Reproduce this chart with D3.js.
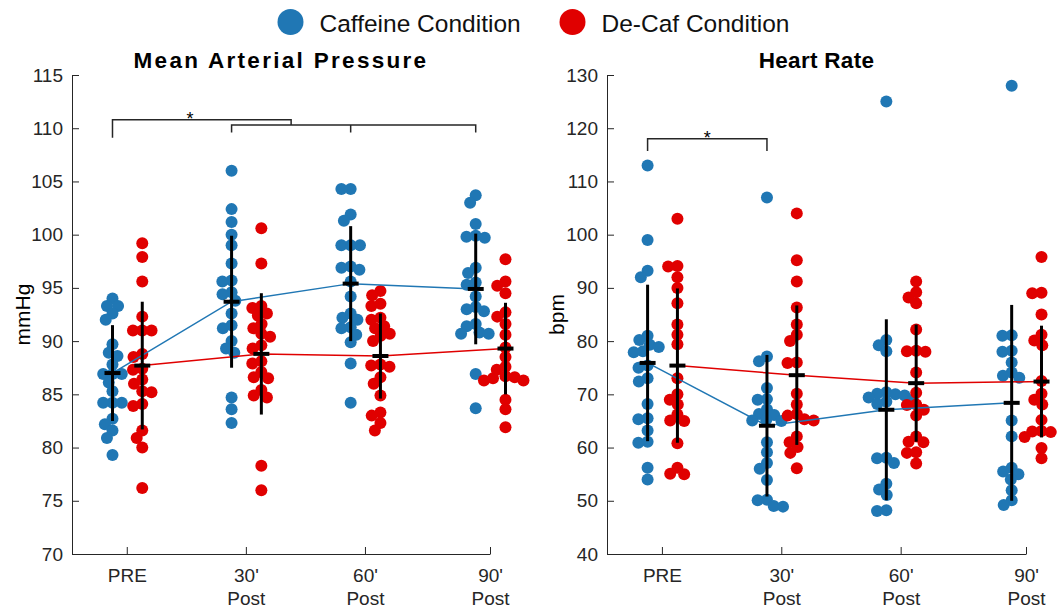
<!DOCTYPE html>
<html>
<head>
<meta charset="utf-8">
<script src="https://cdn.jsdelivr.net/npm/d3@7"></script>
<style>
  body { margin: 0; background: #fff; }
  text { font-family: "Liberation Sans", Arial, sans-serif; fill: #262626; }
</style>
</head>
<body>
<div id="chart"></div>
<script>
// Caffeine vs De-Caf: MAP and heart rate swarm plots

// Pt. 0 - DATA

const timeLabels = [["PRE"], ["30'", "Post"], ["60'", "Post"], ["90'", "Post"]];
const timeX = [1, 2, 3, 4.05];  // category positions on the x axis

const conditions = ["Caffeine Condition", "De-Caf Condition"];

// Mean Arterial Pressure (mmHg), one array per time point
const mapCaf = [
    [94.0, 93.3, 93.3, 92.6, 92.0, 89.7, 88.9, 88.6, 87.8, 86.9, 86.9, 86.9, 86.1, 85.3, 84.2, 84.2, 84.2, 82.7, 82.2, 81.6, 80.9, 79.3],
    [106.0, 102.4, 101.2, 100.0, 99.0, 97.3, 95.7, 95.6, 94.6, 94.4, 93.8, 92.6, 91.5, 91.2, 90.0, 89.3, 88.9, 84.7, 83.6, 82.3],
    [104.3, 104.3, 101.9, 101.3, 99.0, 99.0, 99.0, 97.0, 96.9, 96.7, 95.6, 94.2, 92.6, 92.2, 92.0, 91.3, 91.2, 90.6, 89.9, 87.9, 84.2],
    [103.7, 103.0, 101.0, 99.9, 99.8, 99.7, 96.9, 96.4, 95.5, 95.3, 94.2, 93.2, 93.0, 92.8, 91.6, 91.4, 90.8, 90.7, 90.7, 86.9, 83.7]
];
const mapDecaf = [
    [99.2, 97.9, 95.6, 92.3, 91.0, 91.0, 91.0, 88.8, 88.5, 87.4, 87.3, 86.4, 86.0, 85.3, 85.2, 84.1, 83.9, 81.6, 80.9, 80.0, 76.2],
    [100.6, 97.3, 93.3, 93.1, 92.6, 92.4, 91.6, 91.2, 90.7, 90.4, 89.6, 89.3, 88.1, 87.9, 87.1, 86.6, 86.5, 85.4, 84.9, 84.7, 78.3, 76.0],
    [94.7, 94.3, 93.5, 93.3, 92.2, 92.0, 91.4, 91.2, 90.7, 90.5, 90.0, 87.8, 87.7, 87.6, 86.6, 86.0, 84.9, 83.3, 83.0, 82.3, 81.6],
    [97.7, 95.6, 95.2, 94.5, 92.7, 92.3, 91.6, 90.6, 89.4, 88.5, 87.6, 87.3, 86.7, 86.6, 86.5, 86.3, 86.3, 84.5, 83.6, 81.9]
];
const mapCafMean = [87.0, 93.7, 95.4, 94.9];
const mapCafSd = [4.5, 6.2, 5.4, 5.2];
const mapDecafMean = [87.7, 88.8, 88.6, 89.3];
const mapDecafSd = [6.0, 5.7, 4.0, 4.3];

// Heart Rate (bpm)
const hrCaf = [
    [113.0, 99.0, 93.2, 92.0, 81.0, 80.2, 79.3, 78.9, 78.1, 77.9, 75.4, 75.0, 73.0, 72.4, 68.2, 65.5, 65.3, 63.2, 61.1, 60.9, 56.2, 54.0],
    [107.0, 77.1, 76.2, 71.2, 69.1, 69.0, 67.2, 66.3, 66.1, 65.2, 65.1, 65.0, 61.0, 59.1, 57.1, 56.0, 53.9, 50.2, 50.1, 49.0, 48.9],
    [125.0, 80.2, 79.2, 78.1, 70.4, 70.1, 70.0, 69.8, 69.4, 69.0, 68.6, 68.2, 58.1, 58.0, 57.1, 53.2, 52.1, 51.1, 48.2, 48.1],
    [128.0, 81.1, 81.0, 78.2, 78.0, 76.0, 74.1, 73.5, 73.1, 65.1, 62.1, 56.2, 55.5, 55.0, 54.0, 52.0, 50.1, 49.2]
];
const hrDecaf = [
    [103.0, 94.1, 94.0, 92.0, 90.0, 87.1, 83.1, 81.2, 79.4, 73.0, 70.0, 69.0, 68.1, 66.2, 65.1, 65.0, 60.8, 56.2, 55.1, 55.0],
    [104.0, 95.2, 91.2, 86.3, 83.1, 81.2, 80.0, 76.0, 75.9, 70.1, 68.1, 66.3, 66.0, 65.3, 65.1, 62.1, 61.0, 60.1, 59.0, 56.1],
    [91.2, 89.2, 88.2, 87.1, 82.2, 78.2, 78.1, 78.0, 74.1, 70.3, 68.1, 68.0, 67.1, 66.0, 62.1, 61.1, 61.0, 59.1, 59.0, 57.0],
    [95.8, 89.1, 89.0, 85.0, 81.2, 80.1, 79.2, 72.5, 70.1, 69.0, 68.1, 65.2, 63.1, 63.0, 62.9, 62.0, 59.9, 58.0]
];
const hrCafMean = [75.9, 64.1, 67.1, 68.4];
const hrCafSd = [14.7, 13.3, 17.0, 18.4];
const hrDecafMean = [75.4, 73.6, 72.1, 72.4];
const hrDecafSd = [14.5, 13.1, 11.0, 10.5];

// Pt. 1 - "TYPE SETTING"

const width = 1059,
      height = 609,
      plotTop = 75,
      plotBottom = 554;

const colors = ["#2077b4", "#e00000"];
const groupShift = [-0.12, 0.13];  // caffeine left of tick, de-caf right
const dotR = 6,
      swarmGap = 9.3;

let svg = d3.select("#chart")
    .append("svg")
    .attr("width", width)
    .attr("height", height)
    .attr("viewBox", [0, 0, width, height]);

// simple beeswarm: push each point sideways until it no longer overlaps
function swarm(vals, y) {
    let pts = vals.map(v => ({ v: v, py: y(v), dx: 0 }))
        .sort((a, b) => a.py - b.py);
    let placed = [];
    for (let p of pts) {
        let near = placed.filter(q => Math.abs(q.py - p.py) < swarmGap);
        let cands = [0];
        for (let q of near) {
            let off = Math.sqrt(swarmGap * swarmGap - (q.py - p.py) ** 2);
            cands.push(q.dx + off, q.dx - off);
        }
        cands.sort((a, b) => Math.abs(a) - Math.abs(b) || a - b);
        for (let c of cands) {
            if (near.every(q => (q.dx - c) ** 2 + (q.py - p.py) ** 2 >= swarmGap * swarmGap - 0.01)) {
                p.dx = c;
                break;
            }
        }
        placed.push(p);
    }
    return placed;
}

// Pt. 2 - ONE PANEL

function drawPanel(cfg) {
    let x = d3.scaleLinear()
        .domain([0.54, 4.05])
        .range([cfg.left, cfg.right]);

    let y = d3.scaleLinear()
        .domain(cfg.yDomain)
        .range([plotBottom, plotTop]);

    let g = svg.append("g");

    // axes, ticks pointing inward like the original
    g.append("g")
        .attr("transform", `translate(${cfg.left}, 0)`)
        .call(d3.axisLeft(y).tickValues(cfg.yTicks).tickSize(-7).tickSizeOuter(0).tickPadding(9))
        .call(a => a.selectAll("path, line").attr("stroke", "#262626"))
        .call(a => a.selectAll("text").attr("font-size", 19).attr("font-family", null));

    g.append("g")
        .attr("transform", `translate(0, ${plotBottom})`)
        .call(d3.axisBottom(x).tickValues(timeX).tickSize(-7).tickSizeOuter(0).tickPadding(15))
        .call(a => a.selectAll("path, line").attr("stroke", "#262626"))
        .call(a => a.selectAll(".tick text")
            .attr("font-size", 19)
            .attr("font-family", null)
            .attr("dy", null)
            .each(function (d, i) {
                let t = d3.select(this).text(null);
                timeLabels[i].forEach((s, j) => {
                    t.append("tspan")
                        .attr("x", 0)
                        .attr("dy", j ? "1.2em" : "0.71em")
                        .text(s);
                });
            }));

    // axis label + title
    g.append("text")
        .attr("transform", `translate(${cfg.labelX}, ${(plotTop + plotBottom) / 2}) rotate(-90)`)
        .attr("text-anchor", "middle")
        .attr("font-size", 21)
        .style("fill", "#000")
        .text(cfg.unit);

    g.append("text")
        .attr("x", (cfg.left + cfg.right) / 2)
        .attr("y", 68)
        .attr("text-anchor", "middle")
        .attr("font-size", 22.5)
        .attr("font-weight", "bold")
        .attr("letter-spacing", cfg.titleSpacing)
        .style("fill", "#000")
        .text(cfg.title);

    // dots
    cfg.series.forEach((s, k) => {
        s.points.forEach((vals, i) => {
            let cx = x(timeX[i] + groupShift[k]);
            g.append("g")
                .selectAll("circle")
                .data(swarm(vals, y))
                .join("circle")
                .attr("cx", d => cx + d.dx)
                .attr("cy", d => d.py)
                .attr("r", dotR)
                .attr("fill", colors[k]);
        });
    });

    // mean lines
    cfg.series.forEach((s, k) => {
        let line = d3.line()
            .x((d, i) => x(timeX[i] + groupShift[k]))
            .y(d => y(d));
        g.append("path")
            .datum(s.mean)
            .attr("d", line)
            .attr("fill", "none")
            .attr("stroke", colors[k])
            .attr("stroke-width", 1.5);
    });

    // mean +/- SD bars
    cfg.series.forEach((s, k) => {
        let bars = g.append("g")
            .selectAll("g")
            .data(s.mean.map((m, i) => ({ m: m, sd: s.sd[i], i: i })))
            .join("g")
            .attr("stroke", "#000");

        bars.append("line")
            .attr("x1", d => x(timeX[d.i] + groupShift[k]))
            .attr("x2", d => x(timeX[d.i] + groupShift[k]))
            .attr("y1", d => y(d.m - d.sd))
            .attr("y2", d => y(d.m + d.sd))
            .attr("stroke-width", 3);

        bars.append("line")
            .attr("x1", d => x(timeX[d.i] + groupShift[k]) - 8)
            .attr("x2", d => x(timeX[d.i] + groupShift[k]) + 8)
            .attr("y1", d => y(d.m))
            .attr("y2", d => y(d.m))
            .attr("stroke-width", 4);
    });

    // significance brackets
    let bx = i => x(timeX[i] + groupShift[0]);
    cfg.brackets(g, x, y, bx);
}

// Pt. 3 - DRAW BOTH PANELS

drawPanel({
    left: 72, right: 490,
    yDomain: [70, 115],
    yTicks: d3.range(70, 116, 5),
    unit: "mmHg", labelX: 30,
    title: "Mean Arterial Pressure", titleSpacing: 2.3,
    series: [
        { points: mapCaf, mean: mapCafMean, sd: mapCafSd },
        { points: mapDecaf, mean: mapDecafMean, sd: mapDecafSd }
    ],
    brackets: (g, x, y, bx) => {
        let mid = (bx(1) + bx(2)) / 2;
        let b = g.append("g").attr("fill", "none").attr("stroke", "#262626").attr("stroke-width", 1.5);
        b.append("path")
            .attr("d", `M${bx(0)},${y(109.1)}V${y(110.8)}H${mid}V${y(110.3)}`);
        b.append("path")
            .attr("d", `M${bx(1)},${y(109.6)}V${y(110.3)}H${bx(3)}V${y(109.6)}M${bx(2)},${y(110.3)}V${y(109.6)}`);
        g.append("text")
            .attr("x", x(timeX[0] + groupShift[0] + 0.65))
            .attr("y", y(110.8) + 5)
            .attr("text-anchor", "middle")
            .attr("font-size", 18)
            .style("fill", "#000")
            .text("*");
    }
});

drawPanel({
    left: 607, right: 1026,
    yDomain: [40, 130],
    yTicks: d3.range(40, 131, 10),
    unit: "bpm", labelX: 564,
    title: "Heart Rate", titleSpacing: 0.3,
    series: [
        { points: hrCaf, mean: hrCafMean, sd: hrCafSd },
        { points: hrDecaf, mean: hrDecafMean, sd: hrDecafSd }
    ],
    brackets: (g, x, y, bx) => {
        g.append("path")
            .attr("d", `M${bx(0)},${y(115.7)}V${y(118)}H${bx(1)}V${y(115.7)}`)
            .attr("fill", "none")
            .attr("stroke", "#262626")
            .attr("stroke-width", 1.5);
        g.append("text")
            .attr("x", (bx(0) + bx(1)) / 2)
            .attr("y", y(118) + 5)
            .attr("text-anchor", "middle")
            .attr("font-size", 18)
            .style("fill", "#000")
            .text("*");
    }
});

// Pt. 4 - LEGEND

let legend = svg.append("g")
    .selectAll("g")
    .data(conditions)
    .join("g")
    .attr("transform", (d, i) => `translate(${[290.5, 572.5][i]}, 22)`);

legend.append("circle")
    .attr("r", 13)
    .attr("fill", (d, i) => colors[i]);

legend.append("text")
    .attr("x", 29)
    .attr("y", 9.5)
    .attr("font-size", 24.5)
    .style("fill", "#111")
    .text(d => d);
</script>
</body>
</html>
